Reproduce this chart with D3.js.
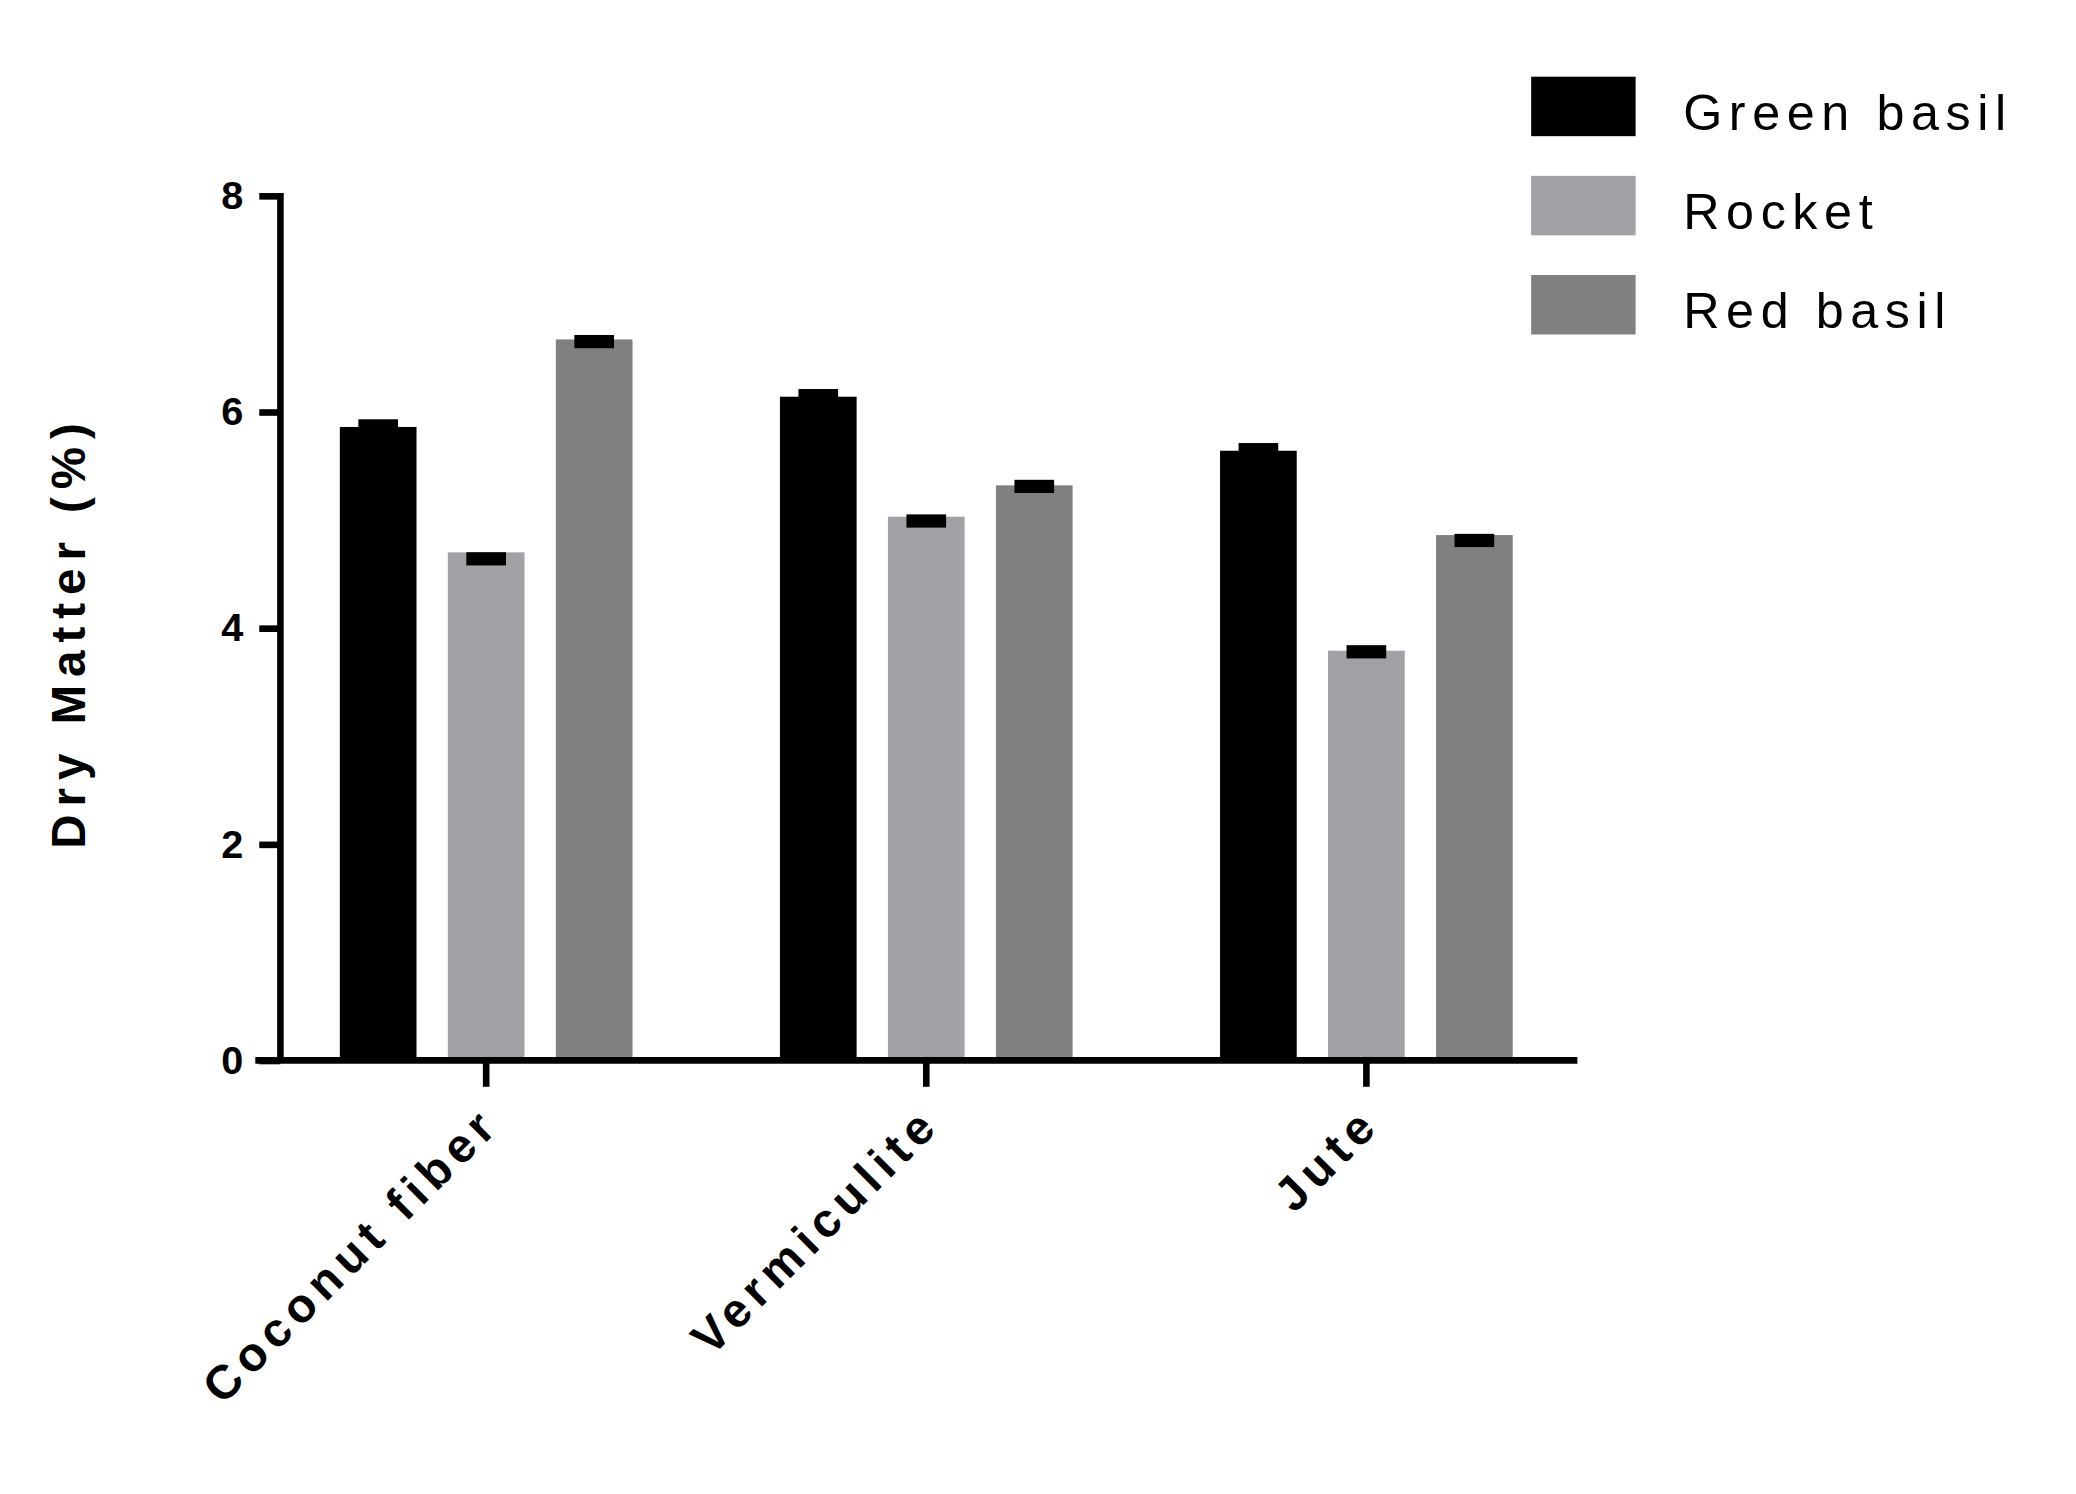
<!DOCTYPE html>
<html>
<head>
<meta charset="utf-8">
<script src="https://cdn.jsdelivr.net/npm/d3@7"></script>
<style>
body { margin: 0; background: #fff; }
text { font-family: "Liberation Sans", Arial, sans-serif; }
</style>
</head>
<body>
<svg id="chart" width="2076" height="1494" viewBox="0 0 1568 1130"></svg>
<script>
var categories = ['Coconut fiber', 'Vermiculite', 'Jute'];
var seriesNames = ['Green basil', 'Rocket', 'Red basil'];
var greenBasil = [5.86, 6.14, 5.64];
var rocket = [4.70, 5.03, 3.79];
var redBasil = [6.67, 5.32, 4.86];
var capValues = [[5.87, 6.15, 5.65], [4.64, 4.99, 3.78], [6.65, 5.31, 4.81]];
var yTicks = [0, 2, 4, 6, 8];
var colors = ['#000000', '#a2a1a6', '#808080'];

var series = [greenBasil, rocket, redBasil];
var svg = d3.select('#chart');

var y = d3.scaleLinear().domain([0, 8]).range([802, 148]);
var x0 = d3.scaleBand().domain(categories).range([211, 1188]).paddingInner(0.335).paddingOuter(0.135);
var x1 = d3.scaleBand().domain(seriesNames).range([0, x0.bandwidth()]).paddingInner(0.29);

categories.forEach(function(c, i) {
    series.forEach(function(s, j) {
        var bx = x0(c) + x1(seriesNames[j]);
        svg.append('rect')
            .attr('x', bx).attr('y', y(s[i]))
            .attr('width', x1.bandwidth()).attr('height', y(0) - y(s[i]))
            .attr('fill', colors[j]);
        svg.append('rect')
            .attr('x', bx + x1.bandwidth() / 2 - 15).attr('y', y(capValues[j][i]) - 5)
            .attr('width', 30).attr('height', 10)
            .attr('fill', '#000');
    });
});

// y axis
var yAxis = svg.append('g').attr('transform', 'translate(211,0)')
    .call(d3.axisLeft(y).tickValues(yTicks).tickSize(16).tickPadding(12));
yAxis.select('.domain').attr('stroke-width', 5).attr('d', 'M0,146V804');
yAxis.selectAll('.tick line').attr('stroke-width', 5);
yAxis.selectAll('.tick text').attr('font-size', 30).attr('font-weight', 'bold')
    .style('font-family', '"Liberation Sans", Arial, sans-serif');

// x axis
svg.append('line').attr('x1', 192).attr('x2', 1192).attr('y1', 802).attr('y2', 802)
    .attr('stroke', '#000').attr('stroke-width', 5);
categories.forEach(function(c) {
    var cx = x0(c) + x0.bandwidth() / 2;
    svg.append('line').attr('x1', cx).attr('x2', cx).attr('y1', 802).attr('y2', 822)
        .attr('stroke', '#000').attr('stroke-width', 5);
    svg.append('text')
        .attr('transform', 'translate(' + (cx + 12) + ',852) rotate(-45)')
        .attr('text-anchor', 'end')
        .attr('font-size', 36).attr('font-weight', 'bold')
        .attr('letter-spacing', 5)
        .text(c);
});

// y title
svg.append('text')
    .attr('transform', 'translate(63,478) rotate(-90)')
    .attr('text-anchor', 'middle')
    .attr('font-size', 36).attr('font-weight', 'bold')
    .attr('letter-spacing', 6)
    .text('Dry Matter (%)');

// legend
seriesNames.forEach(function(n, j) {
    svg.append('rect').attr('x', 1157).attr('y', 58 + j * 75)
        .attr('width', 79).attr('height', 45).attr('fill', colors[j]);
    svg.append('text').attr('x', 1272).attr('y', 98 + j * 75)
        .attr('font-size', 38).attr('letter-spacing', 5)
        .text(n);
});
</script>
</body>
</html>
